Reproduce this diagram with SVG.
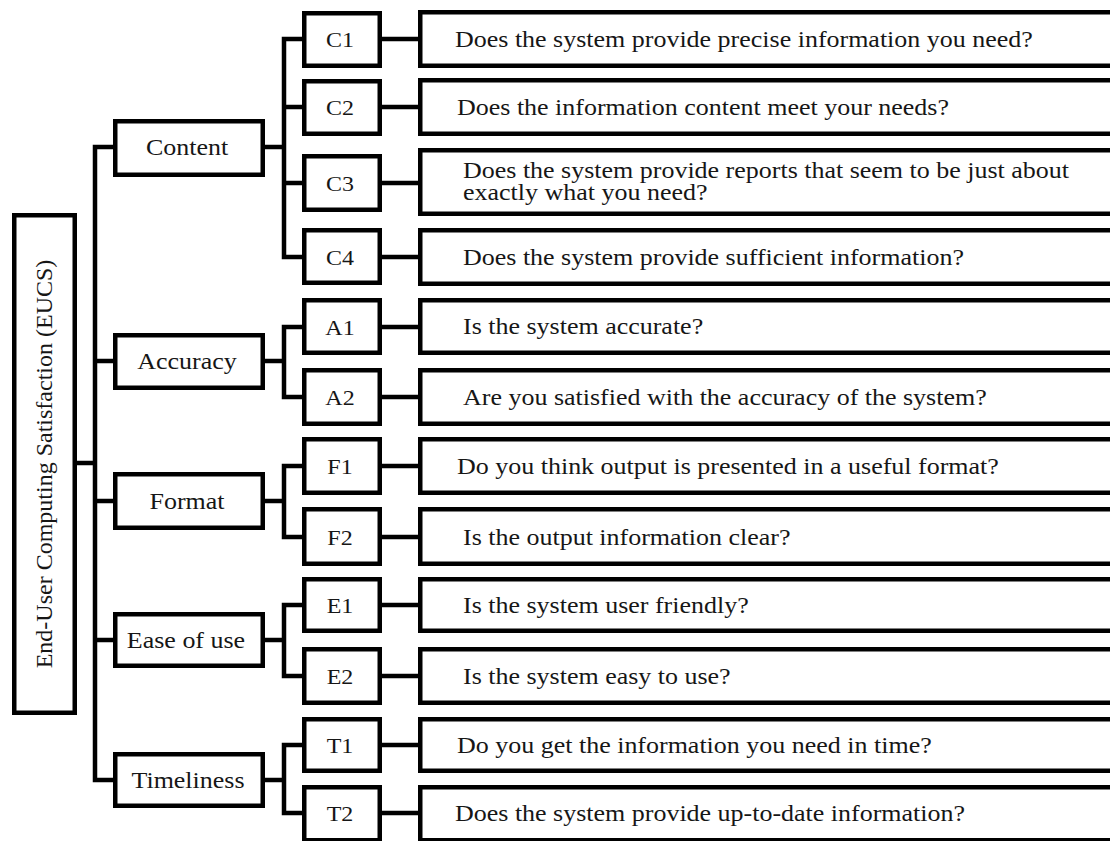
<svg xmlns="http://www.w3.org/2000/svg" width="1110" height="841" viewBox="0 0 1110 841">
  <style>
    .box { fill: #ffffff; stroke: #000000; stroke-width: 4.5; }
    .wire { fill: none; stroke: #000000; stroke-width: 4.5; stroke-linejoin: miter; }
    .t { font-family: "Liberation Serif", "Times New Roman", serif; fill: #161616; }
    .q { font-size: 26px; }
    .cat { font-size: 26px; text-anchor: middle; }
    .code { font-size: 24px; text-anchor: middle; }
    .root { font-size: 24px; text-anchor: middle; }
  </style>
  <rect width="1110" height="841" fill="#ffffff"/>

  <!-- connectors -->
  <g id="connectors">
    <!-- root to main bus -->
    <path class="wire" d="M77,463 H95"/>
    <path class="wire" d="M113,147 H95 V780 H113"/>
    <path class="wire" d="M95,361 H113 M95,501 H113 M95,640 H113"/>
    <!-- Content -->
    <path class="wire" d="M265,147 H284"/>
    <path class="wire" d="M302,39 H284 V257 H302 M284,107 H302 M284,183 H302"/>
    <!-- Accuracy -->
    <path class="wire" d="M265,361 H284"/>
    <path class="wire" d="M302,327 H284 V397 H302"/>
    <!-- Format -->
    <path class="wire" d="M265,501 H284"/>
    <path class="wire" d="M302,466 H284 V537 H302"/>
    <!-- Ease of use -->
    <path class="wire" d="M265,640 H284"/>
    <path class="wire" d="M302,605 H284 V676 H302"/>
    <!-- Timeliness -->
    <path class="wire" d="M265,780 H284"/>
    <path class="wire" d="M302,745 H284 V813 H302"/>
    <!-- item to question -->
    <path class="wire" d="M382,39 H420 M382,107 H420 M382,183 H420 M382,257 H420 M382,327 H420 M382,397 H420 M382,466 H420 M382,537 H420 M382,605 H420 M382,676 H420 M382,745 H420 M382,813 H420"/>
  </g>

  <!-- root -->
  <g id="eucs">
    <rect class="box" x="14.25" y="215.25" width="60.5" height="497.5"/>
    <text class="t root" transform="translate(52,464) rotate(-90)">End-User Computing Satisfaction (EUCS)</text>
  </g>

  <!-- dimensions (text squeezed vertically to 88%) -->
  <g id="content">
    <rect class="box" x="115.25" y="121.25" width="147.5" height="53.5"/>
    <text class="t cat" transform="translate(187,155) scale(1,0.88)">Content</text>
  </g>
  <g id="accuracy">
    <rect class="box" x="115.25" y="335.25" width="147.5" height="52.5"/>
    <text class="t cat" transform="translate(187,369) scale(1,0.88)">Accuracy</text>
  </g>
  <g id="format">
    <rect class="box" x="115.25" y="474.25" width="147.5" height="53.5"/>
    <text class="t cat" transform="translate(187,509) scale(1,0.88)">Format</text>
  </g>
  <g id="ease-of-use">
    <rect class="box" x="115.25" y="614.25" width="147.5" height="51.5"/>
    <text class="t cat" transform="translate(186,648) scale(1,0.88)">Ease of use</text>
  </g>
  <g id="timeliness">
    <rect class="box" x="115.25" y="754.25" width="147.5" height="51.5"/>
    <text class="t cat" transform="translate(188,788) scale(1,0.88)">Timeliness</text>
  </g>

  <!-- items and their questions -->
  <g id="c1">
    <rect class="box" x="304.25" y="13.25" width="75.5" height="52.5"/>
    <text class="t code" transform="translate(340,47) scale(1,0.88)">C1</text>
    <rect class="box" x="420.25" y="12.25" width="700" height="53.5"/>
    <text class="t q" transform="translate(455,47) scale(1,0.88)">Does the system provide precise information  you need?</text>
  </g>
  <g id="c2">
    <rect class="box" x="304.25" y="81.25" width="75.5" height="52.5"/>
    <text class="t code" transform="translate(340,115) scale(1,0.88)">C2</text>
    <rect class="box" x="420.25" y="80.25" width="700" height="53.5"/>
    <text class="t q" transform="translate(457,115) scale(1,0.88)">Does the information  content meet your needs?</text>
  </g>
  <g id="c3">
    <rect class="box" x="304.25" y="156.25" width="75.5" height="53.5"/>
    <text class="t code" transform="translate(340,191) scale(1,0.88)">C3</text>
    <rect class="box" x="420.25" y="150.25" width="700" height="63.5"/>
    <text class="t q" transform="translate(463,178) scale(1,0.88)">Does the system provide reports that seem to be just about</text>
    <text class="t q" transform="translate(463,200) scale(1,0.88)">exactly  what you need?</text>
  </g>
  <g id="c4">
    <rect class="box" x="304.25" y="230.25" width="75.5" height="52.5"/>
    <text class="t code" transform="translate(340,265) scale(1,0.88)">C4</text>
    <rect class="box" x="420.25" y="230.25" width="700" height="53.5"/>
    <text class="t q" transform="translate(463,265) scale(1,0.88)">Does the system provide sufficient information?</text>
  </g>
  <g id="a1">
    <rect class="box" x="304.25" y="300.25" width="75.5" height="52.5"/>
    <text class="t code" transform="translate(340,335) scale(1,0.88)">A1</text>
    <rect class="box" x="420.25" y="300.25" width="700" height="52.5"/>
    <text class="t q" transform="translate(463,334) scale(1,0.88)">Is the system accurate?</text>
  </g>
  <g id="a2">
    <rect class="box" x="304.25" y="370.25" width="75.5" height="53.5"/>
    <text class="t code" transform="translate(340,405) scale(1,0.88)">A2</text>
    <rect class="box" x="420.25" y="370.25" width="700" height="53.5"/>
    <text class="t q" transform="translate(463,405) scale(1,0.88)">Are you satisfied with the accuracy of the system?</text>
  </g>
  <g id="f1">
    <rect class="box" x="304.25" y="439.25" width="75.5" height="53.5"/>
    <text class="t code" transform="translate(340,474) scale(1,0.88)">F1</text>
    <rect class="box" x="420.25" y="439.25" width="700" height="53.5"/>
    <text class="t q" transform="translate(457,474) scale(1,0.88)">Do you think output is presented in a useful format?</text>
  </g>
  <g id="f2">
    <rect class="box" x="304.25" y="509.25" width="75.5" height="54.5"/>
    <text class="t code" transform="translate(340,545) scale(1,0.88)">F2</text>
    <rect class="box" x="420.25" y="509.25" width="700" height="54.5"/>
    <text class="t q" transform="translate(463,545) scale(1,0.88)">Is the output information clear?</text>
  </g>
  <g id="e1">
    <rect class="box" x="304.25" y="579.25" width="75.5" height="51.5"/>
    <text class="t code" transform="translate(340,613) scale(1,0.88)">E1</text>
    <rect class="box" x="420.25" y="579.25" width="700" height="51.5"/>
    <text class="t q" transform="translate(463,613) scale(1,0.88)">Is the system user friendly?</text>
  </g>
  <g id="e2">
    <rect class="box" x="304.25" y="649.25" width="75.5" height="53.5"/>
    <text class="t code" transform="translate(340,684) scale(1,0.88)">E2</text>
    <rect class="box" x="420.25" y="649.25" width="700" height="53.5"/>
    <text class="t q" transform="translate(463,684) scale(1,0.88)">Is the system easy to use?</text>
  </g>
  <g id="t1">
    <rect class="box" x="304.25" y="719.25" width="75.5" height="51.5"/>
    <text class="t code" transform="translate(340,753) scale(1,0.88)">T1</text>
    <rect class="box" x="420.25" y="719.25" width="700" height="51.5"/>
    <text class="t q" transform="translate(457,753) scale(1,0.88)">Do you get the information  you need in time?</text>
  </g>
  <g id="t2">
    <rect class="box" x="304.25" y="787.25" width="75.5" height="53"/>
    <text class="t code" transform="translate(340,821) scale(1,0.88)">T2</text>
    <rect class="box" x="420.25" y="787.25" width="700" height="53"/>
    <text class="t q" transform="translate(455,821) scale(1,0.88)">Does the system provide up-to-date information?</text>
  </g>
</svg>
